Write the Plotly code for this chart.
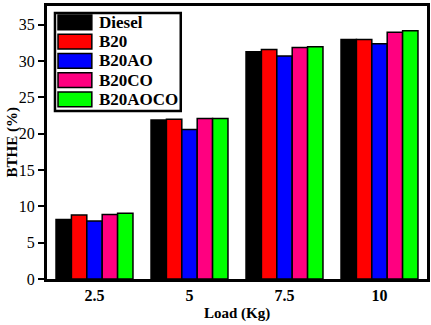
import plotly.graph_objects as go

# load values on the x axis
loads = ["2.5", "5", "7.5", "10"]

# BTHE (%)
diesel = [8.2, 21.9, 31.3, 33.0]
b20 = [8.8, 22.0, 31.6, 33.0]
b20ao = [8.0, 20.6, 30.7, 32.4]
b20co = [8.9, 22.1, 31.9, 34.0]
b20aoco = [9.05, 22.1, 32.0, 34.2]

names = ["Diesel", "B20", "B20AO", "B20CO", "B20AOCO"]
colors = ["#000000", "#ff0000", "#0000ff", "#ff0080", "#00ff00"]
series = [diesel, b20, b20ao, b20co, b20aoco]

font = "Liberation Serif"

fig = go.Figure()
for name, vals, col in zip(names, series, colors):
  fig.add_trace(go.Bar(
    x=loads, y=vals, name=name,
    marker=dict(color=col, line=dict(color="black", width=1.5)),
    showlegend=False,
  ))

# hand-made legend with the wide swatches of the original
shapes = [dict(type="rect", xref="paper", yref="paper",
               x0=0.021, x1=0.352, y0=0.615, y1=0.974,
               line=dict(color="black", width=2.5), fillcolor="white", layer="above")]
annotations = []
row_h = 0.0705
top = 0.94
for i, (name, col) in enumerate(zip(names, colors)):
  yc = top - i * row_h
  shapes.append(dict(type="rect", xref="paper", yref="paper",
                     x0=0.029, x1=0.118, y0=yc - 0.027, y1=yc + 0.027,
                     fillcolor=col, line=dict(color="black", width=1.5), layer="above"))
  annotations.append(dict(xref="paper", yref="paper", x=0.131, y=yc,
                          xanchor="left", yanchor="middle", text="<b>%s</b>" % name,
                          showarrow=False, font=dict(family=font, size=17, color="black")))

# axis titles
annotations.append(dict(xref="paper", yref="paper", x=0.5, y=0, yshift=-24,
                        xanchor="center", yanchor="top", text="<b>Load (Kg)</b>",
                        showarrow=False, font=dict(family=font, size=15, color="black")))
annotations.append(dict(xref="paper", yref="paper", x=-0.092, y=0.5, textangle=-90,
                        xanchor="center", yanchor="middle", text="<b>BTHE (%)</b>",
                        showarrow=False, font=dict(family=font, size=15, color="black")))

fig.update_layout(
  width=431, height=325,
  margin=dict(l=47, r=4, t=6, b=46),
  paper_bgcolor="white", plot_bgcolor="white",
  barmode="group", bargap=0.19, bargroupgap=0,
  font=dict(family=font, color="black"),
  shapes=shapes, annotations=annotations,
  xaxis=dict(
    automargin=False,
    tickfont=dict(size=16), tickprefix="<b>", ticksuffix="</b>",
    showline=True, linecolor="black", linewidth=3, mirror=True,
    ticks="", showgrid=False,
  ),
  yaxis=dict(
    automargin=False,
    range=[0, 37.6], tickvals=[0, 5, 10, 15, 20, 25, 30, 35],
    tickfont=dict(size=16), tickprefix="<b>", ticksuffix="</b>",
    showline=True, linecolor="black", linewidth=3, mirror=True,
    ticks="outside", ticklen=6, tickwidth=2, tickcolor="black",
    showgrid=False, zeroline=False,
  ),
)

# page body has an 8px default margin, drop it so the chart sits at 0,0
fig.write_html("out.html", config={"displayModeBar": False},
               post_script="document.body.style.margin='0';")
